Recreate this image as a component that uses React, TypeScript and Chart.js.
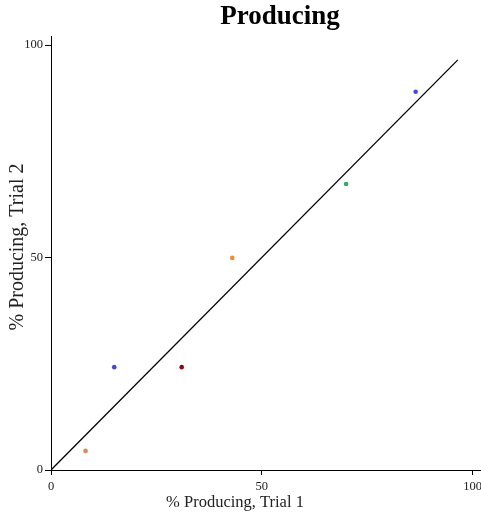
import React, { useEffect, useRef } from "react";
import { Chart, registerables } from "chart.js";

Chart.register(...registerables);

const trial1 = [86.5, 70, 43, 15, 31, 8.2];
const trial2 = [89, 67.3, 49.9, 24.2, 24.2, 4.5];
const pointColors = ["#4747de", "#35a865", "#f5892b", "#4747de", "#8e0b0b", "#d98a5c"];
const lineX = [0, 96.5];
const lineY = [0, 96.5];
const tickValues = [0, 50, 100];
const chartTitle = "Producing";
const xTitle = "% Producing, Trial 1";
const yTitle = "% Producing, Trial 2";

const SERIF = "'Liberation Serif', 'Times New Roman', serif";

const titlesPlugin = {
  id: "customTitles",
  afterDraw(chart: any) {
    const ctx = chart.ctx;
    ctx.save();
    ctx.fillStyle = "#000";
    ctx.textAlign = "center";
    ctx.textBaseline = "alphabetic";
    ctx.font = `bold 27px ${SERIF}`;
    ctx.fillText(chartTitle, 280, 24);
    ctx.fillStyle = "#222";
    ctx.font = `16.5px ${SERIF}`;
    ctx.fillText(xTitle, 235, 507);
    ctx.translate(18, 247);
    ctx.rotate(-Math.PI / 2);
    ctx.textBaseline = "middle";
    ctx.font = `20px ${SERIF}`;
    ctx.fillText(yTitle, 0, 0);
    ctx.restore();
  },
};

export default function App() {
  const ref = useRef<HTMLCanvasElement | null>(null);
  useEffect(() => {
    if (!ref.current) return;
    const points = trial1.map((x, i) => ({ x, y: trial2[i] }));
    const line = lineX.map((x, i) => ({ x, y: lineY[i] }));
    const chart = new Chart(ref.current, {
      type: "scatter",
      data: {
        datasets: [
          {
            type: "line",
            data: line,
            borderColor: "#000",
            borderWidth: 1.3,
            pointRadius: 0,
            fill: false,
            showLine: true,
          } as any,
          {
            data: points,
            pointBackgroundColor: pointColors,
            pointBorderColor: pointColors,
            pointRadius: 2.3,
            pointBorderWidth: 0,
          },
        ],
      },
      options: {
        animation: false,
        responsive: false,
        layout: { autoPadding: false, padding: { top: 36.5, left: 0, right: 0, bottom: 0 } },
        plugins: { legend: { display: false }, tooltip: { enabled: false }, title: { display: false } },
        scales: {
          x: {
            type: "linear",
            min: 0,
            max: 102,
            afterBuildTicks: (s: any) => {
              s.ticks = tickValues.map((v) => ({ value: v }));
            },
            afterFit: (s: any) => {
              s.height = 45;
              s.paddingLeft = 0;
              s.paddingRight = 0;
            },
            grid: { drawOnChartArea: false, drawTicks: true, tickLength: 5, color: "#000" },
            border: { display: true, color: "#000", width: 1 },
            ticks: { color: "#222", font: { family: SERIF, size: 12.5 }, padding: 4, maxRotation: 0, autoSkip: false },
          },
          y: {
            type: "linear",
            min: 0,
            max: 102,
            afterBuildTicks: (s: any) => {
              s.ticks = tickValues.map((v) => ({ value: v }));
            },
            afterFit: (s: any) => {
              s.width = 51;
              s.paddingTop = 0;
              s.paddingBottom = 0;
            },
            grid: { drawOnChartArea: false, drawTicks: true, tickLength: 6, color: "#000" },
            border: { display: true, color: "#000", width: 1 },
            ticks: { color: "#222", font: { family: SERIF, size: 12.5 }, padding: 2, autoSkip: false },
          },
        },
      },
      plugins: [titlesPlugin],
    });
    return () => chart.destroy();
  }, []);
  return (
    <div style={{ position: "absolute", left: 0, top: 0, width: 481, height: 515, background: "#fff" }}>
      <canvas ref={ref} width={481} height={515} style={{ width: 481, height: 515 }} />
    </div>
  );
}
